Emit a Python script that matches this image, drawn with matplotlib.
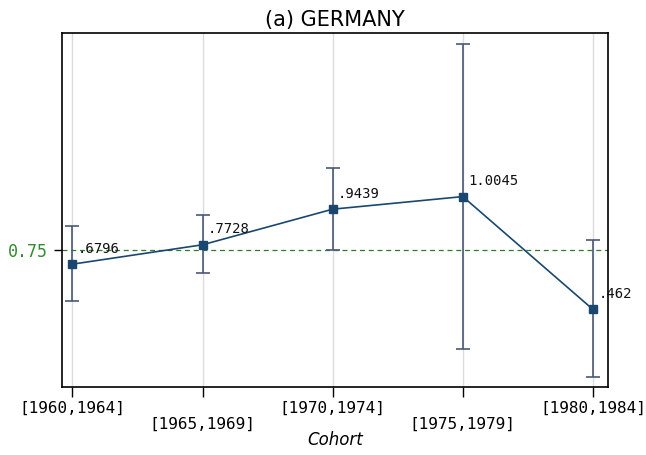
import numpy as np
import matplotlib
matplotlib.use('Agg')
from matplotlib import pyplot as plt

COHORTS = ['[1960,1964]', '[1965,1969]', '[1970,1974]', '[1975,1979]', '[1980,1984]']
COEF = [0.6796, 0.7728, 0.9439, 1.0045, 0.462]
LOWER = [0.502, 0.636, 0.747, 0.271, 0.136]
UPPER = [0.862, 0.915, 1.141, 1.737, 0.795]
LABELS = ['.6796', '.7728', '.9439', '1.0045', '.462']
REFLINE = 0.75

NAVY = '#1a476f'
BARCOL = '#4a5878'
MONO = 'DejaVu Sans Mono'

fig = plt.figure(figsize=(6.46, 4.55), dpi=100)
ax = fig.add_axes([0.096, 0.149, 0.845, 0.778])

x = np.arange(1, len(COHORTS) + 1)
coef = np.array(COEF)
err = np.vstack([coef - np.array(LOWER), np.array(UPPER) - coef])

for xi in x:
    ax.axvline(xi, color='#dcdcdc', lw=1, zorder=0)
ax.axhline(REFLINE, color='#2e7d2e', lw=0.9, ls=(0, (4, 3)), zorder=1)

ax.errorbar(x, coef, yerr=err, fmt='none', ecolor=BARCOL, elinewidth=1.2,
            capsize=5, capthick=1.2, zorder=2)
ax.plot(x, coef, '-', color=NAVY, lw=1.2, zorder=3)
ax.plot(x, coef, 's', color=NAVY, ms=5.5, zorder=4)

for xi, yi, lab in zip(x, coef, LABELS):
    ax.annotate(lab, (xi, yi), xytext=(4, 11), textcoords='offset points',
                fontsize=10, family=MONO, color='#111111', va='center', ha='left')

ax.set_xlim(0.92, 5.115)
ax.set_ylim(0.088, 1.79)
ax.set_xticks(x)
ax.set_xticklabels(COHORTS, family=MONO, fontsize=11.5)
ax.tick_params(axis='x', length=7, width=1, color='black')
for i, t in enumerate(ax.xaxis.get_major_ticks()):
    t.set_pad(3 if i % 2 == 0 else 14)

ax.set_yticks([REFLINE])
ax.set_yticklabels(['0.75'], family=MONO, fontsize=12, color='#2e8b2e')
ax.tick_params(axis='y', length=6, width=1, color='black', pad=4)

for s in ax.spines.values():
    s.set_linewidth(1.2)

ax.set_xlabel('Cohort', fontsize=12, style='italic', labelpad=0)
ax.set_title('(a) GERMANY', fontsize=15, pad=5)

fig.savefig('out.png', dpi=100)
